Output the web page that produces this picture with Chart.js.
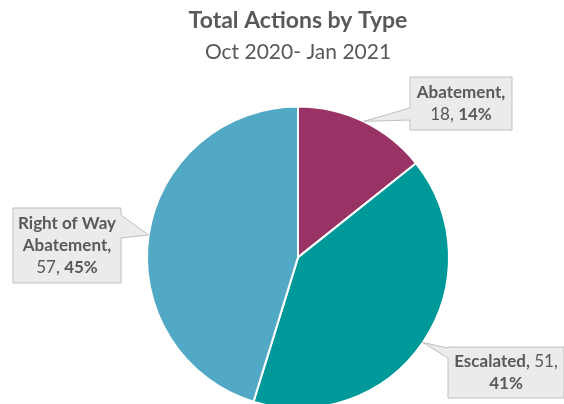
<!DOCTYPE html>
<html>
<head>
<meta charset="utf-8">
<script src="https://cdn.jsdelivr.net/npm/chart.js@4/dist/chart.umd.min.js"></script>
<style>
  html, body { margin: 0; padding: 0; background: #ffffff; overflow: hidden; }
  #wrap { position: relative; width: 564px; height: 480px; }
</style>
</head>
<body>
<div id="wrap"><canvas id="c" width="564" height="480"></canvas></div>
<script>
// ---- data ----
const categories = ['Abatement', 'Escalated', 'Right of Way Abatement'];
const categoryLines = [['Abatement'], ['Escalated'], ['Right of Way', 'Abatement']];
const counts = [18, 51, 57];
const percents = [14, 41, 45];
const sliceColors = ['#993366', '#009999', '#52A9C5'];

const titleText = 'Total Actions by Type';
const subtitleText = 'Oct 2020- Jan 2021';

const FONT = 'Lato, "Liberation Sans", sans-serif';
const TEXT = '#595959';

// callout boxes (layout only)
const calloutLayout = [
  { x: 410, y: 77,  w: 102, h: 53, side: 'left',  t1: 108, t2: 120, valueOnNameLine: false },
  { x: 448, y: 347, w: 116, h: 51, side: 'left',  t1: 348, t2: 358, valueOnNameLine: true },
  { x: 13,  y: 208, w: 108, h: 75, side: 'right', t1: 215, t2: 238, valueOnNameLine: false }
];

function buildLines(i, valueOnNameLine) {
  const names = categoryLines[i].slice();
  const lines = names.map((n, k) => [{ t: n + (k === names.length - 1 ? ',' : ''), b: true }]);
  if (valueOnNameLine) {
    lines[lines.length - 1].push({ t: ' ' + counts[i] + ',', b: false });
    lines.push([{ t: percents[i] + '%', b: true }]);
  } else {
    lines.push([{ t: counts[i] + ', ', b: false }, { t: percents[i] + '%', b: true }]);
  }
  return lines;
}

const calloutPlugin = {
  id: 'callouts',
  afterDatasetsDraw(chart) {
    const ctx = chart.ctx;
    const meta = chart.getDatasetMeta(0);
    const fs = 17, lh = 22;
    meta.data.forEach((arc, i) => {
      const L = calloutLayout[i];
      const p = arc.getProps(['x', 'y', 'startAngle', 'endAngle', 'outerRadius'], true);
      const mid = (p.startAngle + p.endAngle) / 2;
      const tx = p.x + Math.cos(mid) * p.outerRadius;
      const ty = p.y + Math.sin(mid) * p.outerRadius;
      ctx.save();
      ctx.beginPath();
      if (L.side === 'left') {
        ctx.moveTo(L.x, L.y);
        ctx.lineTo(L.x + L.w, L.y);
        ctx.lineTo(L.x + L.w, L.y + L.h);
        ctx.lineTo(L.x, L.y + L.h);
        ctx.lineTo(L.x, L.t2);
        ctx.lineTo(tx, ty);
        ctx.lineTo(L.x, L.t1);
      } else {
        ctx.moveTo(L.x, L.y);
        ctx.lineTo(L.x + L.w, L.y);
        ctx.lineTo(L.x + L.w, L.t1);
        ctx.lineTo(tx, ty);
        ctx.lineTo(L.x + L.w, L.t2);
        ctx.lineTo(L.x + L.w, L.y + L.h);
        ctx.lineTo(L.x, L.y + L.h);
      }
      ctx.closePath();
      ctx.fillStyle = '#EBEBEB';
      ctx.fill();
      ctx.strokeStyle = '#BFBFBF';
      ctx.lineWidth = 1;
      ctx.stroke();

      const lines = buildLines(i, L.valueOnNameLine);
      const cx = L.x + L.w / 2;
      const startY = L.y + L.h / 2 - (lines.length - 1) * lh / 2;
      ctx.fillStyle = TEXT;
      ctx.textBaseline = 'middle';
      ctx.textAlign = 'left';
      lines.forEach((segs, k) => {
        let total = 0;
        segs.forEach(s => { ctx.font = (s.b ? 'bold ' : '') + fs + 'px ' + FONT; s.w = ctx.measureText(s.t).width; total += s.w; });
        let x = cx - total / 2;
        segs.forEach(s => {
          ctx.font = (s.b ? 'bold ' : '') + fs + 'px ' + FONT;
          ctx.fillText(s.t, x, startY + k * lh);
          x += s.w;
        });
      });
      ctx.restore();
    });
  }
};

new Chart(document.getElementById('c'), {
  type: 'pie',
  data: {
    labels: categories,
    datasets: [{
      data: counts,
      backgroundColor: sliceColors,
      borderColor: '#ffffff',
      borderWidth: 2,
      radius: 151
    }]
  },
  options: {
    responsive: false,
    animation: false,
    layout: { padding: { left: 32, right: 0, top: 0, bottom: 30 } },
    plugins: {
      legend: { display: false },
      tooltip: { enabled: false },
      title: {
        display: true,
        text: titleText,
        color: TEXT,
        font: { family: FONT, size: 23, weight: 'bold', lineHeight: 1.2 },
        padding: { top: 7, bottom: 5 }
      },
      subtitle: {
        display: true,
        text: subtitleText,
        color: TEXT,
        font: { family: FONT, size: 21, weight: 'normal', lineHeight: 1.2 },
        padding: { top: 0, bottom: 0 }
      }
    }
  },
  plugins: [calloutPlugin]
});
</script>
</body>
</html>
